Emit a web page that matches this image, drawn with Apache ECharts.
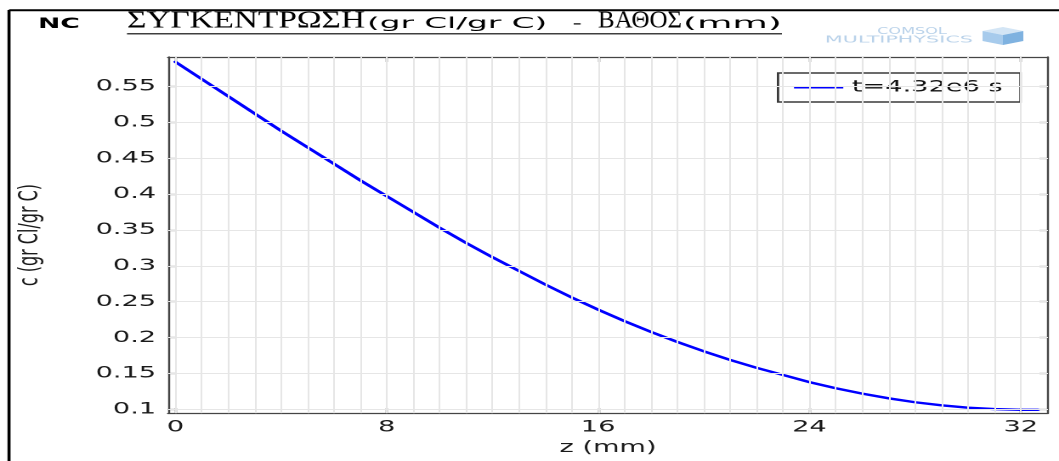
<!DOCTYPE html>
<html>
<head>
<meta charset="utf-8">
<script src="https://cdn.jsdelivr.net/npm/echarts@6/dist/echarts.min.js"></script>
<style>
html, body { margin: 0; padding: 0; background: #fff; overflow: hidden; }
#wrap { width: 1059px; height: 461px; overflow: hidden; position: relative; }
#c { width: 623px; height: 461px; transform: scaleX(1.699839); transform-origin: 0 0; }
</style>
</head>
<body>
<div id="wrap"><div id="c"></div></div>
<script>
// ---- data ----
const depthMm = [0, 1, 2, 3, 4, 5, 6, 7, 8, 9, 10, 11, 12, 13, 14, 15, 16, 17, 18, 19, 20,
                 21, 22, 23, 24, 25, 26, 27, 28, 29, 30, 31, 32, 32.65];
const concentration = [0.584, 0.560, 0.536, 0.512, 0.488, 0.465, 0.442, 0.419, 0.397, 0.375,
                       0.353, 0.332, 0.312, 0.293, 0.274, 0.256, 0.239, 0.223, 0.208, 0.194,
                       0.181, 0.169, 0.158, 0.148, 0.138, 0.1295, 0.122, 0.1155, 0.110, 0.1057,
                       0.1025, 0.1005, 0.0995, 0.0995];
const seriesName = 't=4.32e6 s';
const xTickValues = [0, 8, 16, 24, 32];
const yTickValues = [0.1, 0.15, 0.2, 0.25, 0.3, 0.35, 0.4, 0.45, 0.5, 0.55];
const xGridValues = [0, 1, 2, 3, 4, 5, 6, 7, 8, 9, 10, 11, 12, 13, 14, 15, 16,
                     17, 18, 19, 20, 21, 22, 23, 24, 25, 26, 27, 28, 29, 30, 31, 32];
const yGridValues = [0.1, 0.15, 0.2, 0.25, 0.3, 0.35, 0.4, 0.45, 0.5, 0.55];
const xRange = [-0.28, 33.03];
const yRange = [0.0949, 0.5908];
const xAxisTitle = 'z (mm)';
const yAxisTitle = 'c (gr Cl/gr C)';
const titleParts = ['NC', 'ΣΥΓΚΕΝΤΡΩΣΗ', '(gr Cl/gr C)', '-', 'ΒΑΘΟΣ', '(mm)'];
const logoParts = ['COMSOL', 'MULTIPHYSICS'];

// ---- rendering ----
const SANS = '"DejaVu Sans", sans-serif';
const SERIF = '"Liberation Serif", "DejaVu Serif", serif';
const mctx = document.createElement('canvas').getContext('2d');
function fitScale(text, font, w) { mctx.font = font; return w / mctx.measureText(text).width; }

function textEl(text, font, x, y, w, fill) {
  const s = w ? fitScale(text, font, w) : 1;
  return {
    type: 'text', x: x, y: y, scaleX: s, silent: true,
    style: { text: text, font: font, fill: fill || '#000', x: 0, y: 0,
             align: 'left', verticalAlign: 'middle', textAlign: 'left', textVerticalAlign: 'middle' }
  };
}

const axisColor = '#454545';
const labelFont = { fontFamily: SANS, fontSize: 16, color: '#1a1a1a' };

const chart = echarts.init(document.getElementById('c'), null, { renderer: 'canvas', devicePixelRatio: 2 });

const option = {
  animation: false,
  backgroundColor: '#ffffff',
  grid: { left: 98.83, right: 6.5, top: 57, bottom: 43, containLabel: false },
  legend: {
    left: 457.7, top: 73,
    padding: [6, 10.5, 6, 9.4],
    itemWidth: 29, itemHeight: 2,
    borderColor: '#3a3a3a', borderWidth: 1.4, borderRadius: 0,
    backgroundColor: '#ffffff',
    textStyle: { fontFamily: SANS, fontSize: 16, color: '#111', lineHeight: 17 },
    data: [{ name: seriesName, icon: 'rect' }]
  },
  xAxis: [
    {
      type: 'value', position: 'bottom', min: xRange[0], max: xRange[1],
      name: xAxisTitle, nameLocation: 'middle', nameGap: 23,
      nameTextStyle: labelFont,
      axisLine: { show: true, onZero: false, lineStyle: { color: axisColor, width: 1.2 } },
      axisTick: { show: true, inside: true, length: 5, customValues: xTickValues, lineStyle: { color: axisColor, width: 1.2 } },
      axisLabel: { show: true, margin: 6, customValues: xTickValues, ...labelFont },
      splitLine: { show: false }
    },
    {
      type: 'value', position: 'top', min: xRange[0], max: xRange[1],
      axisLine: { show: true, onZero: false, lineStyle: { color: axisColor, width: 1.2 } },
      axisTick: { show: true, inside: true, length: 5, customValues: xTickValues, lineStyle: { color: axisColor, width: 1.2 } },
      axisLabel: { show: false },
      splitLine: { show: false }
    }
  ],
  yAxis: [
    {
      type: 'value', position: 'left', min: yRange[0], max: yRange[1],
      name: yAxisTitle, nameLocation: 'middle', nameGap: 73,
      nameTextStyle: labelFont,
      axisLine: { show: true, onZero: false, lineStyle: { color: axisColor, width: 1.2 } },
      axisTick: { show: true, inside: true, length: 5, customValues: yTickValues, lineStyle: { color: axisColor, width: 1.2 } },
      axisLabel: { show: true, margin: 7, customValues: yTickValues, ...labelFont },
      splitLine: { show: false }
    },
    {
      type: 'value', position: 'right', min: yRange[0], max: yRange[1],
      axisLine: { show: true, onZero: false, lineStyle: { color: axisColor, width: 1.2 } },
      axisTick: { show: true, inside: true, length: 5, customValues: yTickValues, lineStyle: { color: axisColor, width: 1.2 } },
      axisLabel: { show: false },
      splitLine: { show: false }
    }
  ],
  series: [
    {
      name: 'grid', type: 'line', xAxisIndex: 0, yAxisIndex: 0, data: [], z: 1, silent: true,
      markLine: {
        silent: true, symbol: 'none', animation: false,
        label: { show: false },
        lineStyle: { color: '#e6e6e6', width: 1, type: 'solid' },
        emphasis: { disabled: true },
        data: xGridValues.map(v => ({ xAxis: v })).concat(yGridValues.map(v => ({ yAxis: v })))
      }
    },
    {
      name: seriesName, type: 'line', xAxisIndex: 0, yAxisIndex: 0, z: 3,
      data: depthMm.map((z, i) => [z, concentration[i]]),
      symbol: 'none', showSymbol: false, smooth: false,
      lineStyle: { color: '#0000ff', width: 2.4, join: 'round', cap: 'round' },
      itemStyle: { color: '#0000ff' }
    }
  ],
  graphic: [
    // outer frame (left and top edges visible)
    { type: 'line', silent: true, shape: { x1: 5.3, y1: 10, x2: 5.3, y2: 461 }, style: { stroke: '#000', lineWidth: 1.8 } },
    { type: 'line', silent: true, shape: { x1: 5.3, y1: 10.3, x2: 623, y2: 10.3 }, style: { stroke: '#000', lineWidth: 2 } },
    // title
    textEl(titleParts[0], 'bold 14px ' + SANS, 22.4, 24.6, 24.5, '#000'),
    textEl(titleParts[1], '24px ' + SERIF, 74.7, 21.4, 140, '#000'),
    textEl(titleParts[2], '15px ' + SANS, 215.9, 24.3, 106, '#000'),
    textEl(titleParts[3], '15px ' + SANS, 336.8, 24.3, 5.6, '#000'),
    textEl(titleParts[4], '24px ' + SERIF, 351.8, 21.4, 49.4, '#000'),
    textEl(titleParts[5], '15px ' + SANS, 401.8, 24.3, 58.2, '#000'),
    { type: 'line', silent: true, shape: { x1: 74.7, y1: 33.8, x2: 460, y2: 33.8 }, style: { stroke: '#000', lineWidth: 1.2 } },
    // COMSOL logo
    textEl(logoParts[0], '10px ' + SANS, 516, 31.6, 41, '#b9d2ea'),
    textEl(logoParts[1], '10px ' + SANS, 485.3, 40.0, 87, '#b9d2ea'),
    { type: 'polygon', silent: true, shape: { points: [[590, 27], [602, 31], [590, 35], [578, 31]] }, style: { fill: '#d3e5f5' } },
    { type: 'polygon', silent: true, shape: { points: [[578, 31], [590, 35], [590, 45], [578, 41]] }, style: { fill: '#a7cbec' } },
    { type: 'polygon', silent: true, shape: { points: [[590, 35], [602, 31], [602, 41], [590, 45]] }, style: { fill: '#7fb2e0' } }
  ]
};
chart.setOption(option);
</script>
</body>
</html>
